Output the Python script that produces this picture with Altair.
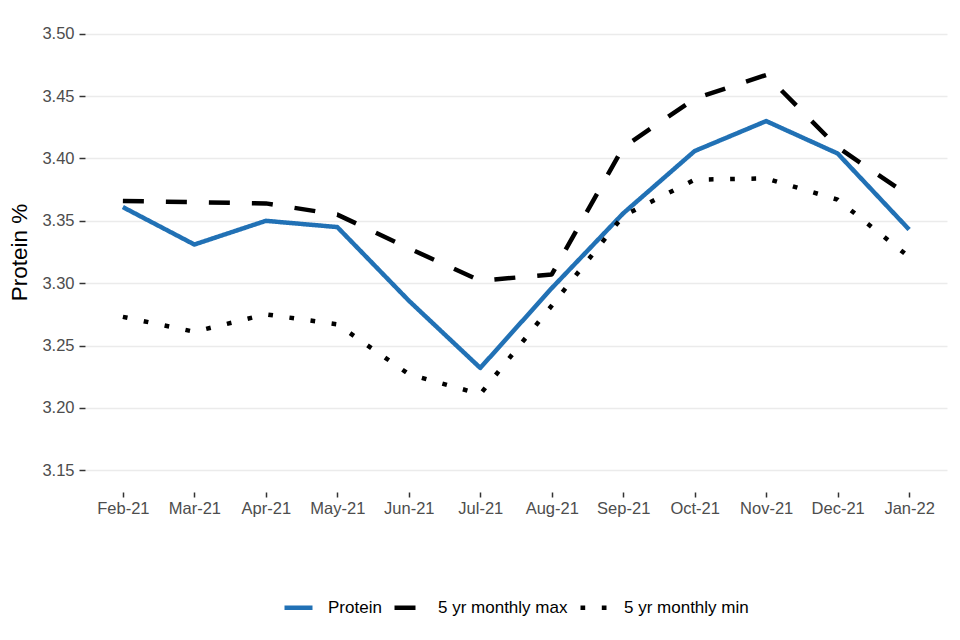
import altair as alt
import pandas as pd

months = ["Feb-21", "Mar-21", "Apr-21", "May-21", "Jun-21", "Jul-21",
          "Aug-21", "Sep-21", "Oct-21", "Nov-21", "Dec-21", "Jan-22"]
protein = [3.361, 3.331, 3.350, 3.345, 3.286, 3.232, 3.296, 3.356, 3.406, 3.430, 3.404, 3.343]
max5 = [3.366, 3.365, 3.364, 3.355, 3.328, 3.302, 3.307, 3.409, 3.448, 3.467, 3.409, 3.370]
min5 = [3.273, 3.261, 3.275, 3.267, 3.227, 3.211, 3.282, 3.354, 3.383, 3.384, 3.367, 3.321]
series = ["Protein", "5 yr monthly max", "5 yr monthly min"]
y_ticks = [3.15, 3.20, 3.25, 3.30, 3.35, 3.40, 3.45, 3.50]

rows = []
for name, vals in zip(series, [protein, max5, min5]):
    for m, v in zip(months, vals):
        rows.append({"month": m, "value": v, "series": name})
df = pd.DataFrame(rows)

FONT = "Liberation Sans"

chart = alt.Chart(df).mark_line(strokeWidth=4.5, strokeCap="butt", strokeJoin="round").encode(
    x=alt.X("month:N", sort=months,
            scale=alt.Scale(type="point", padding=0.53),
            axis=alt.Axis(title=None, labelAngle=0, domain=False, ticks=True,
                          tickSize=5, tickColor="#333333", tickWidth=1.5,
                          labelPadding=3, labelFontSize=16.5, labelColor="#4d4d4d",
                          labelOverlap=False, grid=False, labelFont=FONT)),
    y=alt.Y("value:Q",
            scale=alt.Scale(domain=[3.1325, 3.5175], nice=False, zero=False),
            axis=alt.Axis(title="Protein %", values=y_ticks, format=".2f",
                          domain=False, ticks=True, tickSize=6, tickColor="#333333",
                          tickWidth=1.5, labelPadding=5, labelFontSize=16.5,
                          labelColor="#4d4d4d", grid=True, gridColor="#ebebeb",
                          gridWidth=1.5, titleFontSize=22.5, titleFontWeight="normal",
                          titleColor="black", titlePadding=10, labelFont=FONT,
                          titleFont=FONT)),
    color=alt.Color("series:N", sort=series,
                    scale=alt.Scale(domain=series, range=["#2171b5", "#000000", "#000000"]),
                    legend=alt.Legend(title=None, orient="none", legendX=197, legendY=579,
                                      direction="horizontal", symbolType="stroke",
                                      symbolSize=784, symbolStrokeWidth=4.5,
                                      labelFontSize=17, labelColor="black",
                                      labelOffset=13, columnPadding=3, labelFont=FONT)),
    strokeDash=alt.StrokeDash("series:N", sort=series,
                              scale=alt.Scale(domain=series,
                                              range=[[1, 0], [21, 22], [4.7, 16.6]]),
                              legend=None),
).properties(
    width=862, height=480,
    autosize=alt.AutoSizeParams(type="none"),
    padding={"left": 77, "top": 4, "right": 5, "bottom": 140},
).configure(font=FONT).configure_view(stroke=None, strokeWidth=0)

chart.save("out.html", embed_options={"renderer": "svg", "actions": False})
